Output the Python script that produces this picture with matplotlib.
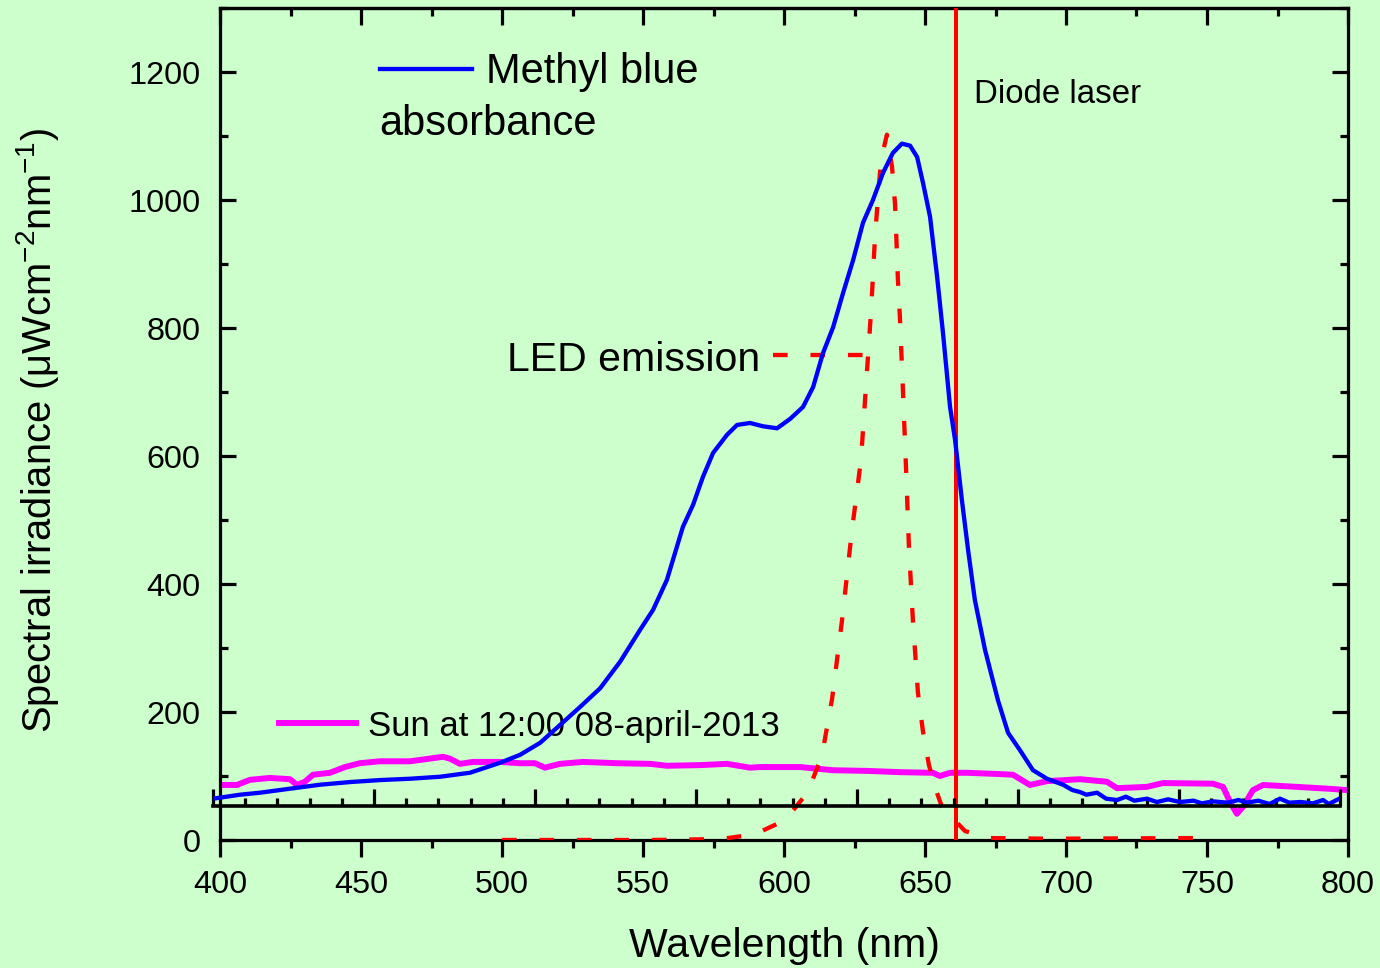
import matplotlib
matplotlib.use("Agg")
import matplotlib.pyplot as plt
from matplotlib.lines import Line2D
from matplotlib.ticker import MultipleLocator, FixedLocator
import numpy as np

plt.rcParams['font.family'] = ['Liberation Sans', 'DejaVu Sans']
plt.rcParams['mathtext.fontset'] = 'custom'
plt.rcParams['mathtext.rm'] = 'Liberation Sans'

# ---- data -------------------------------------------------------------
# Methyl blue absorbance (arbitrary units, its own wavelength frame)
blue_nm = [400.0, 409.6, 416.7, 427.3, 438.0, 448.6, 459.3, 469.9, 480.6, 491.2,
           501.9, 509.0, 516.1, 523.2, 530.3, 537.4, 544.5, 551.6, 556.2, 561.1,
           566.8, 570.4, 573.9, 577.5, 582.4, 586.0, 590.6, 595.2, 600.2, 604.8,
           609.4, 613.0, 616.5, 620.1, 623.6, 627.2, 630.7, 634.2, 637.8, 641.3,
           644.5, 647.4, 649.9, 652.0, 654.5, 657.0, 659.1, 661.6, 663.4, 665.8,
           668.0, 670.4, 674.0, 678.6, 682.2, 686.4, 691.0, 696.0, 701.7, 705.0,
           707.7, 710.0, 713.8, 717.0, 720.9, 724.0, 727.0, 731.5, 735.0, 739.0,
           743.2, 748.0, 751.0, 754.9, 760.0, 764.0, 767.0, 771.0, 775.0, 778.7,
           782.0, 786.0, 790.4, 794.0, 796.0, 799.3]
blue_abs = [0.011, 0.017, 0.020, 0.026, 0.032, 0.036, 0.039, 0.041, 0.044, 0.050,
            0.065, 0.077, 0.095, 0.122, 0.149, 0.177, 0.217, 0.265, 0.295, 0.340,
            0.420, 0.453, 0.495, 0.531, 0.558, 0.573, 0.576, 0.571, 0.568, 0.582,
            0.600, 0.630, 0.681, 0.720, 0.771, 0.821, 0.877, 0.911, 0.952, 0.982,
            0.996, 0.993, 0.976, 0.937, 0.886, 0.796, 0.711, 0.600, 0.550, 0.460,
            0.385, 0.310, 0.235, 0.159, 0.110, 0.084, 0.054, 0.041, 0.032, 0.024,
            0.021, 0.017, 0.020, 0.011, 0.009, 0.014, 0.008, 0.011, 0.006, 0.010,
            0.006, 0.008, 0.004, 0.007, 0.005, 0.009, 0.005, 0.008, 0.003, 0.011,
            0.005, 0.006, 0.004, 0.009, 0.003, 0.010]

# Sun spectral irradiance, 12:00 08-april-2013
sun_nm = [400.0, 406.0, 410.6, 417.7, 424.8, 427.3, 430.1, 433.0, 439.0, 444.3,
          449.6, 456.7, 467.4, 479.1, 481.6, 485.1, 489.7, 499.3, 506.4, 511.7,
          515.2, 520.6, 528.7, 540.8, 552.5, 558.5, 570.2, 579.8, 587.9, 591.5,
          605.7, 617.4, 629.4, 641.1, 652.8, 655.3, 658.9, 664.9, 676.6, 681.2,
          687.2, 693.3, 705.0, 714.5, 718.1, 728.7, 734.4, 752.1, 755.7, 758.2,
          760.6, 762.8, 766.3, 769.9, 781.9, 793.6, 799.6]
sun_irr = [86, 86, 94, 97, 95, 86, 91, 102, 105, 114,
           120, 123, 123, 130, 127, 119, 122, 122, 120, 120,
           113, 119, 122, 120, 119, 116, 117, 119, 113, 114,
           114, 109, 108, 106, 105, 100, 105, 105, 103, 102,
           86, 92, 95, 91, 81, 83, 89, 88, 83, 59,
           41, 52, 78, 86, 83, 80, 78]

# LED emission
led_nm = [500.0, 517.0, 534.8, 552.5, 570.2, 580.1, 589.7, 600.4, 608.5, 613.5,
          617.0, 620.6, 624.1, 627.3, 629.1, 630.9, 632.3, 634.4, 636.5, 638.3,
          639.4, 640.4, 641.1, 642.2, 643.3, 644.3, 645.7, 647.5, 649.3, 651.4,
          653.9, 656.0, 664.2, 673.0, 694.3, 745.7]
led_irr = [0, 0, 0, 0, 1, 3, 9, 31, 75, 133,
           219, 344, 484, 594, 711, 828, 945, 1063, 1102, 1052,
           992, 875, 817, 700, 578, 458, 344, 230, 169, 117,
           78, 52, 14, 3, 2, 3]

laser_nm = 661.0

x_ticks = [400, 450, 500, 550, 600, 650, 700, 750, 800]
y_ticks = [0, 200, 400, 600, 800, 1000, 1200]

# ---- figure -----------------------------------------------------------
W, H = 1380, 968
BG = '#CCFFCC'
fig = plt.figure(figsize=(W / 100, H / 100), dpi=100)
fig.patch.set_facecolor(BG)


def box(left, right, top, bottom):
    return [left / W, (H - bottom) / H, (right - left) / W, (bottom - top) / H]


ax = fig.add_axes(box(220, 1348, 8, 840))
ax.set_facecolor(BG)
ax.set_xlim(400, 800)
ax.set_ylim(0, 1300)

SPW = 2.3
for s in ax.spines.values():
    s.set_linewidth(SPW)

ax.xaxis.set_major_locator(FixedLocator(x_ticks))
ax.xaxis.set_minor_locator(MultipleLocator(25))
ax.yaxis.set_major_locator(FixedLocator(y_ticks))
ax.yaxis.set_minor_locator(MultipleLocator(100))
ax.tick_params(axis='x', which='both', direction='out', width=SPW,
               labelsize=23.3, pad=9.5)
ax.tick_params(axis='x', which='major', length=12)
ax.tick_params(axis='x', which='minor', length=6)
ax.tick_params(axis='y', which='both', direction='in', left=True, right=True,
               width=SPW, labelsize=23.3, pad=14)
ax.tick_params(axis='y', which='major', length=11.5)
ax.tick_params(axis='y', which='minor', length=6)

top = ax.secondary_xaxis('top')
top.xaxis.set_major_locator(FixedLocator(x_ticks))
top.xaxis.set_minor_locator(MultipleLocator(25))
top.tick_params(which='both', direction='in', width=SPW, labeltop=False)
top.tick_params(which='major', length=12)
top.tick_params(which='minor', length=6)
top.spines['top'].set_linewidth(SPW)

ax.set_xlabel('Wavelength (nm)', fontsize=29.5)
ax.xaxis.set_label_coords(0.5, -0.104)
ax.set_ylabel('Spectral irradiance (μWcm$^{\\mathregular{-2}}$nm$^{\\mathregular{-1}}$)',
              fontsize=28.7)
ax.yaxis.set_label_coords((61 - 220) / 1128, 0.4928)

# sun, LED and laser on the irradiance axes
ax.plot(sun_nm, sun_irr, color='#FF00FF', lw=4.3, solid_joinstyle='round', zorder=2)
DASH = (3.4, 5.3)
ax.plot(led_nm, led_irr, color='#FF0000', lw=3.1, dashes=DASH, zorder=3)
ax.axvline(laser_nm, color='#FF0000', lw=2.9, zorder=4)

# annotations and legend samples (axes-fraction coordinates)
tA = ax.transAxes
ax.add_line(Line2D([0.1418, 0.2234], [0.9267, 0.9267], transform=tA,
                   color='#0000FF', lw=3.1))
ax.text(0.2358, 0.9099, 'Methyl blue', transform=tA, fontsize=30, va='baseline')
ax.text(0.1410, 0.8474, 'absorbance', transform=tA, fontsize=30, va='baseline')

ax.text(0.2548, 0.5637, 'LED emission', transform=tA, fontsize=29.5, va='baseline')
ax.add_line(Line2D([0.4902, 0.5727], [0.5829, 0.5829], transform=tA,
                   color='#FF0000', lw=3.1, dashes=DASH))

ax.add_line(Line2D([0.0523, 0.1206], [0.1406, 0.1406], transform=tA,
                   color='#FF00FF', lw=4.3))
ax.text(0.1315, 0.1250, 'Sun at 12:00 08-april-2013', transform=tA,
        fontsize=25, va='baseline')

ax.text(0.6688, 0.8858, 'Diode laser', transform=tA, fontsize=23.8, va='baseline')

# absorbance spectrum on its own overlaid frame
ov = fig.add_axes(box(213, 1340, 8, 806), zorder=3)
ov.patch.set_alpha(0)
ov.set_xlim(400, 800)
ov.set_ylim(0, 1.2)
for s in ('top', 'left', 'right'):
    ov.spines[s].set_visible(False)
ov.spines['bottom'].set_linewidth(2.6)
ov.xaxis.set_major_locator(FixedLocator(np.linspace(400, 800, 8)))
ov.xaxis.set_minor_locator(FixedLocator(np.linspace(400, 800, 36)))
ov.tick_params(axis='x', which='both', direction='in', labelbottom=False, width=SPW)
ov.tick_params(axis='x', which='major', length=12)
ov.tick_params(axis='x', which='minor', length=6)
ov.set_yticks([])
ov.plot(blue_nm, blue_abs, color='#0000FF', lw=3.1, solid_joinstyle='round')

fig.savefig('out.png', dpi=100, facecolor=BG)
